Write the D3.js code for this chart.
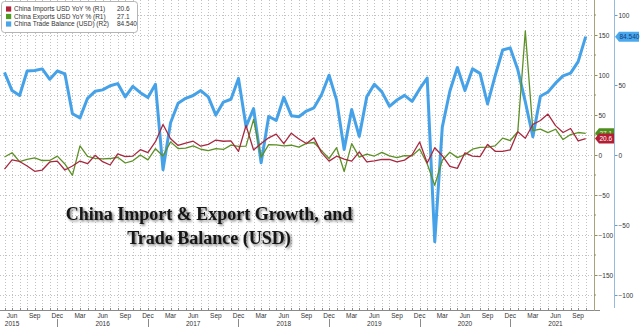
<!DOCTYPE html>
<html>
<head>
<meta charset="utf-8">
<script src="https://cdn.jsdelivr.net/npm/d3@7"></script>
<style>
  html, body { margin: 0; padding: 0; background: #fff; }
  svg { display: block; font-family: "Liberation Sans", Arial, sans-serif; }
</style>
</head>
<body>
<svg id="chart" width="640" height="327"></svg>
<script>
// Monthly observations, May 2015 – Oct 2021
const months = [
  "2015-05","2015-06","2015-07","2015-08","2015-09","2015-10","2015-11","2015-12",
  "2016-01","2016-02","2016-03","2016-04","2016-05","2016-06","2016-07","2016-08","2016-09","2016-10","2016-11","2016-12",
  "2017-01","2017-02","2017-03","2017-04","2017-05","2017-06","2017-07","2017-08","2017-09","2017-10","2017-11","2017-12",
  "2018-01","2018-02","2018-03","2018-04","2018-05","2018-06","2018-07","2018-08","2018-09","2018-10","2018-11","2018-12",
  "2019-01","2019-02","2019-03","2019-04","2019-05","2019-06","2019-07","2019-08","2019-09","2019-10","2019-11","2019-12",
  "2020-01","2020-02","2020-03","2020-04","2020-05","2020-06","2020-07","2020-08","2020-09","2020-10","2020-11","2020-12",
  "2021-01","2021-02","2021-03","2021-04","2021-05","2021-06","2021-07","2021-08","2021-09","2021-10"
];

// China imports, USD, YoY % (left scale R1)
const importsYoY = [
  -17.6, -6.1, -8.1, -13.8, -20.4, -18.8, -8.7, -7.6,
  -18.8, -13.8, -7.6, -10.9, -0.4, -8.4, -12.5, 1.5, -1.9, -1.4, 6.7, 3.1,
  16.7, 38.1, 20.3, 11.9, 14.8, 17.2, 11.0, 13.3, 18.7, 17.2, 17.7, 4.5,
  36.9, 6.3, 14.4, 21.5, 26.0, 14.1, 27.3, 20.0, 14.3, 21.4, 3.0, -7.6,
  -1.5, -5.2, -7.6, 4.0, -8.5, -7.3, -5.6, -5.6, -8.5, -6.4, 0.3, 16.3,
  -10.0, 9.0, -0.9, -14.2, -16.7, 2.7, -1.4, -2.1, 13.2, 4.7, 4.5, 6.5,
  29.0, 21.0, 38.1, 43.1, 51.1, 36.7, 28.1, 33.1, 17.6, 20.6
];

// China exports, USD, YoY % (left scale R1)
const exportsYoY = [
  -2.5, 2.8, -8.3, -5.5, -3.7, -6.9, -6.8, -1.4,
  -11.2, -25.4, 11.5, -1.8, -4.1, -4.8, -4.4, -2.8, -10.0, -7.3, 0.1, -6.1,
  7.9, -1.3, 16.4, 8.0, 8.7, 11.3, 7.2, 5.5, 8.1, 6.9, 12.3, 10.9,
  11.1, 44.5, -2.7, 12.9, 12.6, 11.3, 12.2, 9.8, 14.5, 15.6, 5.4, -4.4,
  9.1, -20.7, 14.2, -2.7, 1.1, -1.3, 3.3, -1.0, -3.2, -0.9, -1.1, 7.6,
  -11.0, -38.0, -6.6, 3.5, -3.3, 0.5, 7.2, 9.5, 9.9, 11.4, 21.1, 18.1,
  29.0, 155.0, 30.6, 32.3, 27.9, 32.2, 19.3, 25.6, 28.1, 27.1
];

// China trade balance, USD bn (right scale R2)
const tradeBalance = [
  59.0, 46.0, 42.5, 60.0, 60.3, 61.5, 54.1, 60.0,
  58.0, 29.5, 26.5, 40.5, 45.5, 46.5, 49.5, 51.0, 41.5, 49.0, 44.5, 41.0,
  50.5, -10.5, 23.0, 37.0, 40.5, 42.5, 46.0, 41.5, 28.5, 37.8, 39.8, 54.7,
  20.3, 33.2, -5.5, 27.5, 24.7, 41.3, 28.1, 27.3, 31.4, 33.7, 43.0, 57.0,
  39.2, 4.0, 32.4, 13.3, 41.7, 50.5, 45.1, 34.8, 39.3, 42.6, 38.3, 47.2,
  55.0, -62.0, 19.9, 45.5, 62.5, 46.0, 61.5, 58.3, 36.5, 56.5, 75.0, 76.5,
  61.0, 38.0, 13.0, 42.0, 45.0, 51.3, 56.5, 58.5, 66.7, 84.54
];

const r1Ticks = [150, 100, 50, 0, -50, -100, -150];
const r2Ticks = [100, 50, 0, -50, -100];
const yearLabels = ["2015", "2016", "2017", "2018", "2019", "2020", "2021"];
const legendLabels = [
  "China Imports USD YoY % (R1)",
  "China Exports USD YoY % (R1)",
  "China Trade Balance (USD) (R2)"
];
const legendValues = ["20.6", "27.1", "84.540"];
const titleLines = ["China Import & Export Growth, and", "Trade Balance (USD)"];

const colors = { imports: "#a8283f", exports: "#5c9025", balance: "#45a2e8" };

const svg = d3.select("#chart");
const W = 640, H = 327;
const plotRight = 594, plotBottom = 310, r2x = 614;

const parseMonth = d3.timeParse("%Y-%m");
const dates = months.map(parseMonth);

const x = d3.scaleLinear().domain([0, months.length - 1]).range([4.5, 585.7]);
const y1 = d3.scaleLinear().domain([-193.75, 193.75]).range([plotBottom, 0]);
const y2 = d3.scaleLinear().domain([-110.714, 110.714]).range([plotBottom, 0]);

// grid
const grid = svg.append("g").attr("stroke", "#c2c2c2").attr("stroke-dasharray", "1,2").attr("stroke-width", 1);
d3.range(-175, 176, 25).forEach(v => {
  grid.append("line").attr("x1", 0).attr("x2", plotRight)
    .attr("y1", Math.round(y1(v)) + 0.5).attr("y2", Math.round(y1(v)) + 0.5);
});
months.forEach((m, i) => {
  grid.append("line").attr("x1", Math.round(x(i)) + 0.5).attr("x2", Math.round(x(i)) + 0.5)
    .attr("y1", 0).attr("y2", plotBottom);
});

// series
const lineR1 = vals => d3.line().x((d, i) => x(i)).y(d => y1(d))(vals);
const lineR2 = d3.line().x((d, i) => x(i)).y(d => y2(d));

svg.append("path").attr("d", lineR2(tradeBalance)).attr("fill", "none")
  .attr("stroke", colors.balance).attr("stroke-width", 3).attr("stroke-linejoin", "round");
svg.append("path").attr("d", lineR1(exportsYoY)).attr("fill", "none")
  .attr("stroke", colors.exports).attr("stroke-width", 1.3).attr("stroke-linejoin", "round");
svg.append("path").attr("d", lineR1(importsYoY)).attr("fill", "none")
  .attr("stroke", colors.imports).attr("stroke-width", 1.3).attr("stroke-linejoin", "round");

// bottom time axis
const axisG = svg.append("g").attr("font-size", 6.5).attr("fill", "#333");
axisG.append("line").attr("x1", 0).attr("x2", 600).attr("y1", plotBottom + 0.5).attr("y2", plotBottom + 0.5)
  .attr("stroke", "#8a8a8a");
months.forEach((m, i) => {
  axisG.append("line").attr("x1", Math.round(x(i)) + 0.5).attr("x2", Math.round(x(i)) + 0.5)
    .attr("y1", plotBottom - 2).attr("y2", plotBottom).attr("stroke", "#8a8a8a");
});
const fmtMon = d3.timeFormat("%b");
dates.forEach((d, i) => {
  const mo = d.getMonth();
  if (mo % 3 === 2 && i < months.length - 1) {
    axisG.append("text").attr("x", x(i)).attr("y", 317.5).attr("text-anchor", "middle").text(fmtMon(d));
  }
  if (mo === 5) {
    axisG.append("text").attr("x", x(i)).attr("y", 325.5).attr("text-anchor", "middle")
      .text(yearLabels[d.getFullYear() - 2015]);
  }
  if (mo === 11) {
    axisG.append("line").attr("x1", Math.round(x(i)) + 0.5).attr("x2", Math.round(x(i)) + 0.5)
      .attr("y1", 319).attr("y2", H).attr("stroke", "#8a8a8a");
  }
});

// right axes
const axR1 = svg.append("g").attr("transform", `translate(${plotRight + 0.5},0)`)
  .call(d3.axisRight(y1).tickValues(r1Ticks).tickSize(3).tickPadding(1));
axR1.select(".domain").remove();
axR1.selectAll(".tick line").attr("stroke", "#8d8c62");
axR1.selectAll(".tick text").attr("font-size", 6.5).attr("fill", "#333").attr("font-family", "Liberation Sans, Arial, sans-serif");
svg.append("line").attr("x1", plotRight + 0.5).attr("x2", plotRight + 0.5).attr("y1", 0).attr("y2", plotBottom + 1)
  .attr("stroke", "#a6a57a");
d3.range(-175, 176, 50).forEach(v => {
  svg.append("line").attr("x1", plotRight).attr("x2", plotRight + 2).attr("y1", y1(v)).attr("y2", y1(v)).attr("stroke", "#8d8c62");
});

const axR2 = svg.append("g").attr("transform", `translate(${r2x + 0.5},0)`)
  .call(d3.axisRight(y2).tickValues(r2Ticks).tickSize(3).tickPadding(1));
axR2.select(".domain").remove();
axR2.selectAll(".tick line").attr("stroke", "#6a9cc8");
axR2.selectAll(".tick text").attr("font-size", 6.5).attr("fill", "#333").attr("font-family", "Liberation Sans, Arial, sans-serif");
svg.append("line").attr("x1", r2x + 0.5).attr("x2", r2x + 0.5).attr("y1", 0).attr("y2", 308)
  .attr("stroke", "#93bbdc");

// last-value tags
function tag(x0, yc, w, fill, textFill, label) {
  const g = svg.append("g");
  g.append("path")
    .attr("d", `M${x0},${yc} L${x0 + 4},${yc - 5} L${x0 + w},${yc - 5} L${x0 + w},${yc + 5} L${x0 + 4},${yc + 5} Z`)
    .attr("fill", fill);
  g.append("text").attr("x", x0 + 4.5).attr("y", yc + 2.4).attr("font-size", 6.5).attr("fill", textFill).text(label);
}
const last = months.length - 1;
tag(plotRight + 1, y1(exportsYoY[last]), 19, "#4e8e1c", "#e8f5d0", legendValues[1]);
tag(plotRight + 1, y1(importsYoY[last]), 19, "#b41e34", "#ffffff", legendValues[0]);
tag(r2x + 1, y2(tradeBalance[last]), 24, "#4aa8ee", "#123c78", legendValues[2]);

// legend
const leg = svg.append("g");
leg.append("rect").attr("x", 1.5).attr("y", 1.5).attr("width", 136).attr("height", 31).attr("rx", 3)
  .attr("fill", "#fff").attr("stroke", "#b5b5b5");
const legColors = [colors.imports, colors.exports, colors.balance];
const swatchColors = ["#b3233a", "#4f9a1f", "#4aa6e8"];
legendLabels.forEach((lab, k) => {
  const yc = 9 + k * 7.5;
  leg.append("rect").attr("x", 6).attr("y", yc - 2.6).attr("width", 5.2).attr("height", 5.2).attr("fill", swatchColors[k]);
  leg.append("text").attr("x", 14).attr("y", yc + 2.3).attr("font-size", 6.5).attr("fill", "#333").text(lab);
  leg.append("text").attr("x", 117).attr("y", yc + 2.3).attr("font-size", 6.5).attr("fill", "#333").text(legendValues[k]);
});

// title with soft drop shadow
const defs = svg.append("defs");
const f = defs.append("filter").attr("id", "shadow").attr("x", "-10%").attr("y", "-30%").attr("width", "120%").attr("height", "160%");
f.append("feDropShadow").attr("dx", 1.5).attr("dy", 1.5).attr("stdDeviation", 1).attr("flood-color", "#000").attr("flood-opacity", 0.55);
const title = svg.append("g").attr("filter", "url(#shadow)")
  .attr("font-family", "Liberation Serif, 'Times New Roman', serif").attr("font-weight", "bold")
  .attr("font-size", 18).attr("fill", "#141414").attr("text-anchor", "middle");
titleLines.forEach((t, k) => {
  title.append("text").attr("x", 209).attr("y", 220 + k * 24).text(t);
});
</script>
</body>
</html>
